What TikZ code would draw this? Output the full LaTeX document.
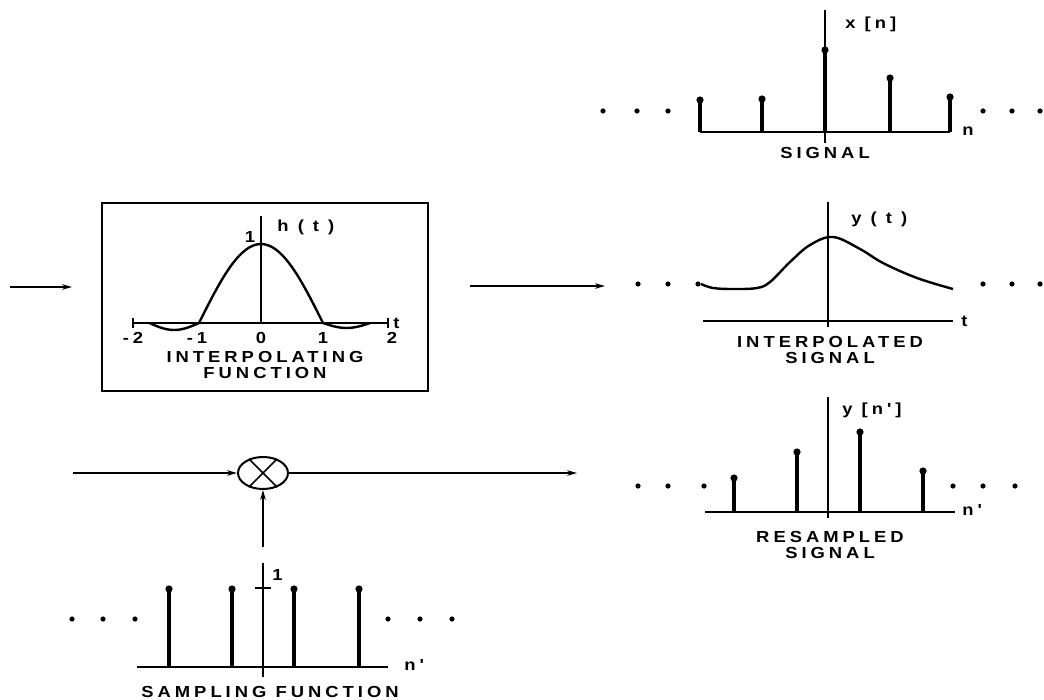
\documentclass[tikz,border=0pt]{standalone}
\usepackage{fontspec}
\setmainfont{Liberation Sans}
\newfontfamily\lblfont{Liberation Sans}[FakeStretch=1.15,LetterSpace=25]
\usetikzlibrary{arrows.meta,positioning,shapes.geometric}

\begin{document}
\begin{tikzpicture}[x=0.5pt,y=-0.5pt,
    axis/.style={line width=1pt},
    stem/.style={line width=1.7pt},
    flow/.style={line width=0.7pt,-{Stealth[length=5pt,width=2.8pt]}},
    lbl/.style={font=\lblfont\bfseries\fontsize{8}{8.2}\selectfont, inner sep=0pt, align=center}]
    \useasboundingbox (0,0) rectangle (1044,700);

    % Signal x[n]
    \draw[axis] (825,10) -- (825,143);
    \draw[axis] (700,132) -- (950,132);
    \foreach \x/\h in {700/100, 762/99, 825/50, 890/78, 950/97} {
        \draw[stem] (\x,132) -- (\x,\h);
        \fill (\x,\h) circle (1.8pt);
    }
    \foreach \x in {603, 637, 668, 983, 1012, 1040}
        \fill (\x,111) circle (1.3pt);
    \node[lbl, anchor=west] (xlbl) at (845,24) {x [n]};
    \node[lbl, anchor=west] (nlbl) at (962,131) {n};
    \node[lbl] (siglbl) at (825,153) {SIGNAL};

    % Interpolating function h(t)
    \draw[line width=1.1pt] (102,203) rectangle (428,391);
    \draw[axis] (261,216) -- (261,323);
    \draw[axis] (133,323) -- (388,323);
    \draw[axis] (133,318) -- (133,328);
    \draw[axis] (388,318) -- (388,328);
    \draw[line width=1.2pt]
        plot[domain=-1.8:-1, samples=15] ({261+62*\x},{323-7*sin(180*(\x+1)/0.8)})
        -- plot[domain=-1:1, samples=41] ({261+62*\x},{323-79*cos(90*\x)})
        -- plot[domain=1:1.76, samples=15] ({261+62*\x},{323+5*sin(180*(\x-1)/0.76)});
    \foreach \x/\t in {133/-2, 197/-1, 261/0, 323/1, 392/2}
        \node[lbl] at (\x,338) {\t};
    \node[lbl, anchor=west] (tlbl) at (393,323) {t};
    \node[lbl] (onelbl) at (250,237) {1};
    \node[lbl, anchor=west] (hlbl) at (277,227) {h ( t )};
    \node[lbl] (funlbl) at (265,365) {INTERPOLATING\\FUNCTION};

    % Interpolated signal y(t)
    \draw[axis] (828,202) -- (828,327);
    \draw[axis] (703,321) -- (953,321);
    \draw[line width=1.2pt] plot[smooth, tension=0.6] coordinates {(701,284) (713,288)
        (733,289) (757,288) (770,282) (790,262) (810,245) (833,237)
        (860,249) (883,263) (917,278) (953,289)};
    \foreach \x in {638, 668, 698, 983, 1012, 1040}
        \fill (\x,284) circle (1.3pt);
    \node[lbl, anchor=west] (ylbl) at (851,219) {y ( t )};
    \node[lbl, anchor=west] (t2lbl) at (961,321) {t};
    \node[lbl] (ipslbl) at (830,350) {INTERPOLATED\\SIGNAL};

    % Resampled signal y[n']
    \draw[axis] (828,397) -- (828,518);
    \draw[axis] (705,512) -- (955,512);
    \foreach \x/\h in {734/478, 797/452, 860/432, 923/471} {
        \draw[stem] (\x,512) -- (\x,\h);
        \fill (\x,\h) circle (1.8pt);
    }
    \foreach \x in {638, 668, 704, 953, 983, 1015}
        \fill (\x,486) circle (1.3pt);
    \node[lbl, anchor=west] (yn_lbl) at (842,410) {y [n']};
    \node[lbl, anchor=west] (np_lbl) at (962,510) {n'};
    \node[lbl] (reslbl) at (830,545) {RESAMPLED\\SIGNAL};

    % Multiplier
    \node[draw, ellipse, line width=1pt, minimum width=25pt, minimum height=16pt,
        inner sep=0pt] (mult) at (263,473) {};
    \draw[line width=0.8pt] (mult.45) -- (mult.225);
    \draw[line width=0.8pt] (mult.135) -- (mult.315);

    % Sampling function
    \draw[axis] (263,563) -- (263,677);
    \draw[axis] (137,667) -- (388,667);
    \draw[axis] (255,588) -- (271,588);
    \foreach \x in {169, 232, 294, 359} {
        \draw[stem] (\x,667) -- (\x,589);
        \fill (\x,589) circle (1.8pt);
    }
    \foreach \x in {72, 103, 135, 388, 420, 452}
        \fill (\x,619) circle (1.3pt);
    \node[lbl, anchor=west] (one2lbl) at (272,575) {1};
    \node[lbl, anchor=west] (np2lbl) at (404,665) {n'};
    \node[lbl] (samplbl) at (270,692) {SAMPLING FUNCTION};

    % Connectors
    \coordinate (xin) at (10,287);
    \coordinate (xinend) at (72,287);
    \coordinate (hout) at (470,286);
    \coordinate (houtend) at (605,286);
    \coordinate (sin) at (73,473);
    \coordinate (yout) at (577,473);
    \coordinate (samp) at (263,547);
    \draw[flow] (xin) -- (xinend);
    \draw[flow] (hout) -- (houtend);
    \draw[flow] (sin) -- (mult.west);
    \draw[flow] (mult.east) -- (yout);
    \draw[flow] (samp) -- (mult.south);
\end{tikzpicture}
\end{document}
